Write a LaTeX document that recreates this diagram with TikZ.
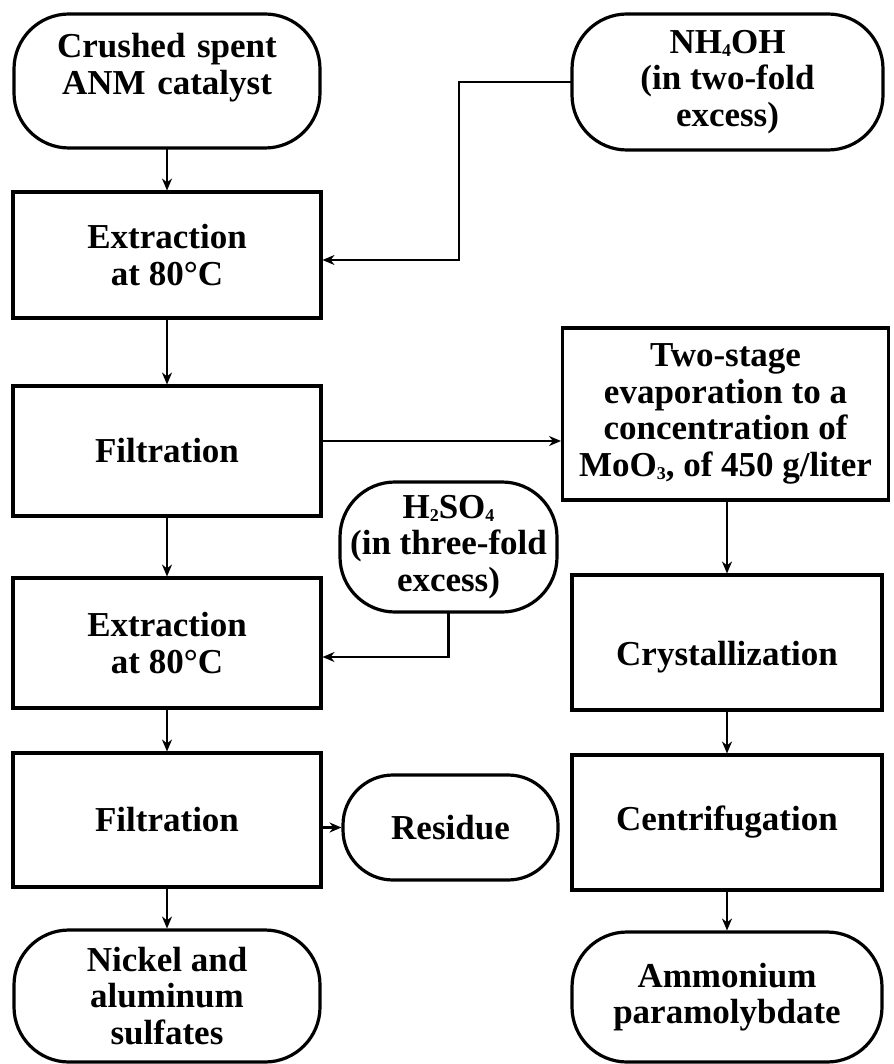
\documentclass[tikz,border=0pt]{standalone}
\usepackage{fontspec}
\setmainfont{Liberation Serif}
\usetikzlibrary{arrows.meta, positioning, calc}

\newcommand{\chsub}[1]{\raisebox{-3pt}{\fontsize{18}{18}\selectfont #1}}

\begin{document}
\begin{tikzpicture}[
  node distance=44pt,
  term/.style={rectangle, rounded corners=55pt, draw, line width=3.2pt, outer sep=0pt,
               minimum width=306pt, minimum height=134pt, align=center,
               font=\fontsize{35}{36.5}\selectfont\bfseries, inner sep=4pt},
  proc/.style={rectangle, draw, line width=3.6pt, outer sep=0pt,
               minimum width=308pt, minimum height=130pt, align=center,
               font=\fontsize{35}{36.5}\selectfont\bfseries, inner sep=4pt},
  arr/.style={-{Stealth[length=12pt,width=10pt]}, line width=2.2pt, shorten >=1.5pt}
]
  \useasboundingbox (0pt,0pt) rectangle (893pt,-1064pt);

  % left column
  \node[term, text width=290pt, text height=26pt, text depth=72pt] (crushed) at (167pt,-81pt) {Crushed spent\\ANM catalyst};
  \node[proc, below=44pt of crushed, minimum height=126pt] (ext1)  {Extraction\\at 80°C};
  \node[proc, below=68pt of ext1]                        (filt1) {Filtration};
  \node[proc, below=62pt of filt1]                       (ext2)  {Extraction\\at 80°C};
  \node[proc, below=45pt of ext2, minimum height=134pt]  (filt2) {Filtration};
  \node[term, below=43pt of filt2, minimum height=132pt] (nickel) {Nickel and\\aluminum\\sulfates};

  % reagents and residue
  \node[term, minimum width=311pt, minimum height=136pt] (nh4oh) at (727.5pt,-82pt) {NH\chsub{4}OH\\(in two-fold\\excess)};
  \node[term, minimum width=217pt, minimum height=130pt] (h2so4) at (448.5pt,-547pt) {H\chsub{2}SO\chsub{4}\\(in three-fold\\excess)};
  \node[term, rounded corners=50pt, minimum width=215pt, minimum height=105pt] (residue) at (450.5pt,-827.5pt) {Residue};

  % right column
  \node[proc, below=178pt of nh4oh, xshift=-2pt, minimum width=326pt, minimum height=172pt] (evap)
       {Two-stage\\evaporation to a\\concentration of\\MoO\chsub{3}, of 450 g/liter};
  \node[proc, below=75pt of evap, xshift=1.5pt, minimum width=310pt, minimum height=135pt,
        text height=54pt, text depth=8pt] (cryst) {Crystallization};
  \node[proc, below=45pt of cryst, minimum width=310pt, minimum height=135pt] (centr) {Centrifugation};
  \node[term, below=42pt of centr, minimum width=310pt, minimum height=130pt] (ammon) {Ammonium\\paramolybdate};

  \draw[arr] (crushed) -- (ext1);
  \draw[arr] (nh4oh.west) -- ++(-113pt,0) |- ([yshift=-5pt]ext1.east);
  \draw[arr] (ext1)  -- (filt1);
  \draw[arr] ([yshift=10pt]filt1.east) -- ([yshift=10pt]filt1.east -| evap.west);
  \draw[arr] (filt1) -- (ext2);
  \draw[arr] (h2so4) |- ([yshift=-14pt]ext2.east);
  \draw[arr] (ext2)  -- (filt2);
  \draw[arr] (filt2.east |- residue) -- (residue);
  \draw[arr] (filt2) -- (nickel);
  \draw[arr] (evap.south -| cryst) -- (cryst);
  \draw[arr] (cryst) -- (centr);
  \draw[arr] (centr) -- (ammon);
\end{tikzpicture}
\end{document}
